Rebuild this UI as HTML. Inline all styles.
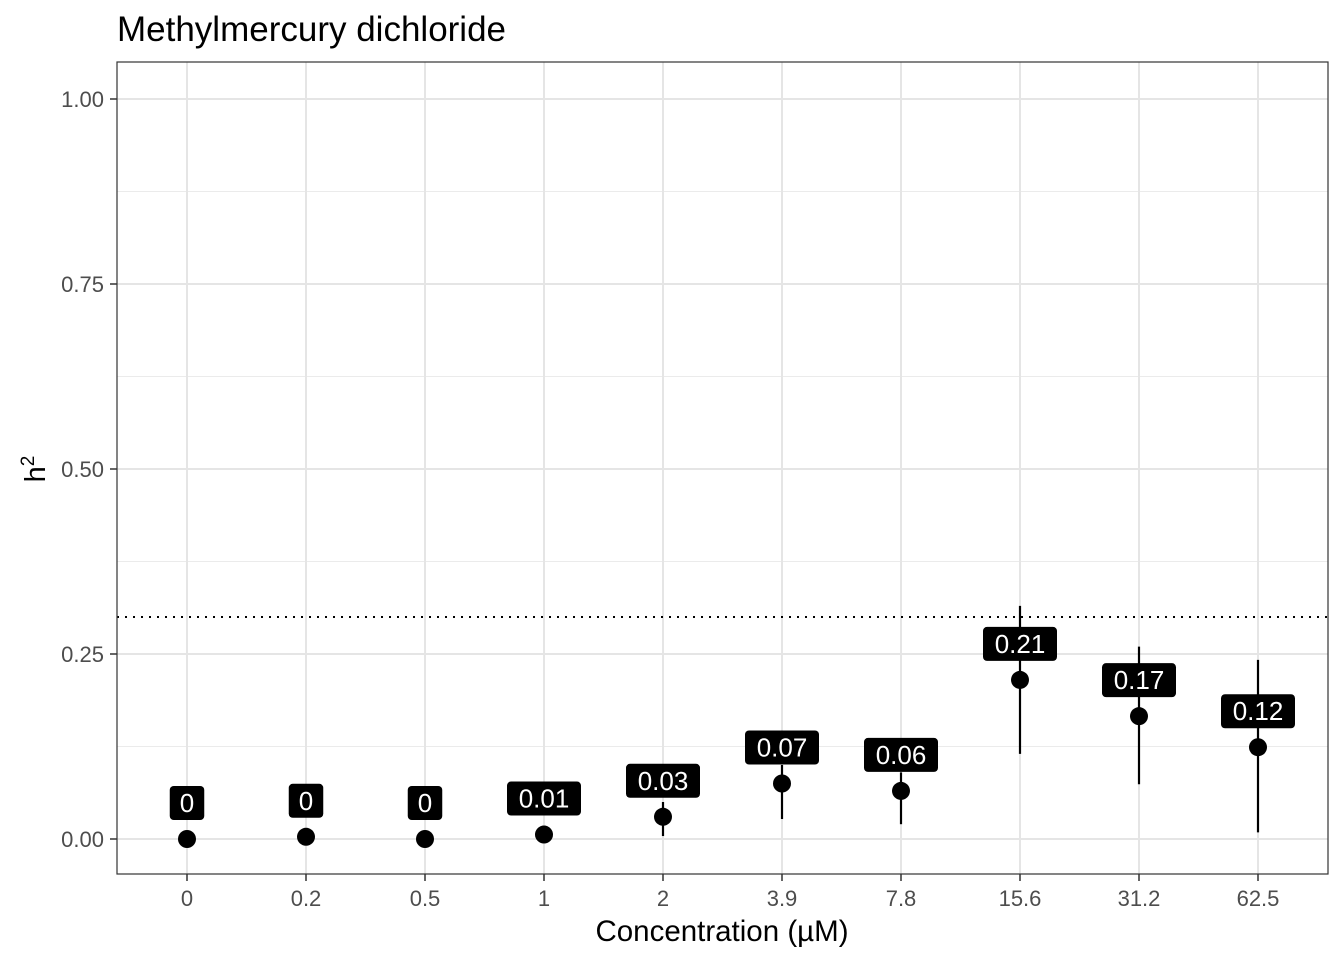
<!DOCTYPE html>
<html><head><meta charset="utf-8"><style>
body{margin:0;background:#fff;}
svg text{font-family:"Liberation Sans",Arial,sans-serif;}
</style></head><body>
<svg id="c" width="1344" height="960" xmlns="http://www.w3.org/2000/svg">
<text x="117" y="41" font-size="35" fill="#000">Methylmercury dichloride</text>
<g id="grid"></g>
<g id="marks"></g>
<rect x="117" y="62" width="1211" height="812" fill="none" stroke="#333" stroke-width="1.2"/>
<text x="722" y="941" font-size="29.5" text-anchor="middle">Concentration (µM)</text>
<text transform="translate(45,469) rotate(-90)" font-size="29" text-anchor="middle">h<tspan dy="-11" font-size="19">2</tspan></text>
</svg>
<script>
const categories=["0","0.2","0.5","1","2","3.9","7.8","15.6","31.2","62.5"];
const values=[0,0.003,0,0.006,0.03,0.075,0.065,0.215,0.166,0.124];
const lower=[null,null,null,null,0.004,0.027,0.02,0.115,0.074,0.009];
const upper=[null,null,null,null,0.05,0.1,0.09,0.315,0.26,0.242];
const labels=["0","0","0","0.01","0.03","0.07","0.06","0.21","0.17","0.12"];
const yTicks=[0,0.25,0.5,0.75,1.0];
const yTickLabels=["0.00","0.25","0.50","0.75","1.00"];
const threshold=0.3;
const NS="http://www.w3.org/2000/svg";
const xs=i=>187+i*119;
const ys=v=>839-v*740;
function mk(tag,attrs,parent){const e=document.createElementNS(NS,tag);for(const k in attrs)e.setAttribute(k,attrs[k]);parent.appendChild(e);return e;}
const grid=document.getElementById('grid'),marks=document.getElementById('marks'),svg=document.getElementById('c');
for(let i=0;i<yTicks.length-1;i++){const m=(yTicks[i]+yTicks[i+1])/2;
 const l=mk('line',{x1:117,x2:1328,y1:ys(m),y2:ys(m),stroke:'#ebebeb','stroke-width':1},grid);
 
 }
yTicks.forEach((t,i)=>{
 const l=mk('line',{x1:117,x2:1328,y1:ys(t),y2:ys(t),stroke:'#e5e5e5','stroke-width':2},grid);
 
 
 mk('line',{x1:110,x2:117,y1:ys(t),y2:ys(t),stroke:'#333','stroke-width':1.5},svg);
 const tx=mk('text',{x:104,y:ys(t)+8,'font-size':22,'text-anchor':'end',fill:'#4d4d4d'},svg);
 tx.textContent=yTickLabels[i];
 
 
});
categories.forEach((c,i)=>{
 const l=mk('line',{x1:xs(i),x2:xs(i),y1:62,y2:874,stroke:'#e5e5e5','stroke-width':2},grid);
 
 
 mk('line',{x1:xs(i),x2:xs(i),y1:874,y2:881,stroke:'#333','stroke-width':1.5},svg);
 const tx=mk('text',{x:xs(i),y:906,'font-size':22,'text-anchor':'middle',fill:'#4d4d4d'},svg);
 tx.textContent=c;
 
 
});
const th=mk('line',{x1:117,x2:1328,y1:ys(threshold),y2:ys(threshold),stroke:'#000','stroke-width':2,'stroke-dasharray':'2,6'},marks);


categories.forEach((c,i)=>{
 if(lower[i]!==null){
  const e=mk('line',{x1:xs(i),x2:xs(i),y1:ys(upper[i]),y2:ys(lower[i]),stroke:'#000','stroke-width':2.2},marks);
  
  
 }
 const p=mk('circle',{cx:xs(i),cy:ys(values[i]),r:9,fill:'#000'},marks);
 
 
 const w=labels[i].length*14.5+(labels[i].length>1?-4:0)+20, cy=ys(values[i])-36;
 const b=mk('rect',{x:xs(i)-w/2,y:cy-17,width:w,height:34,rx:4,fill:'#000'},marks);
 
 
 const t=mk('text',{x:xs(i),y:cy+9,'font-size':26,'text-anchor':'middle',fill:'#fff'},marks);
 t.textContent=labels[i];
 
 
});
</script>
</body></html>
